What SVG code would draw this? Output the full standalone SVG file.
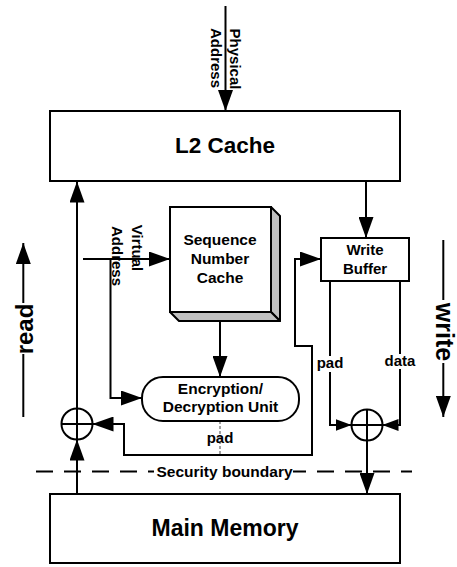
<svg xmlns="http://www.w3.org/2000/svg" width="457" height="567" viewBox="0 0 457 567">
<style>
  text { font-family: "Liberation Sans", Arial, sans-serif; font-weight: bold; fill: #000; }
  .box { fill: #fff; stroke: #000; stroke-width: 2; }
  .shade { fill: #c0c0c0; stroke: #000; stroke-width: 2; stroke-linejoin: round; }
  .wire { fill: none; stroke: #000; stroke-width: 2; }
  .arrow { marker-end: url(#ah); }
  .arrow-s { marker-end: url(#ahs); }
  .dash { fill: none; stroke: #000; stroke-width: 2; stroke-dasharray: 17 11; }
  .thin { fill: none; stroke: #444; stroke-width: 1; stroke-dasharray: 3 2; }
  .lbl { font-size: 15px; text-anchor: middle; }
  .c { text-anchor: middle; }
</style>
<defs>
  <marker id="ah" markerUnits="userSpaceOnUse" markerWidth="21" markerHeight="15" refX="21" refY="7.5" orient="auto">
    <path d="M0,0 L21,7.5 L0,15 Z" fill="#000"/>
  </marker>
  <marker id="ahs" markerUnits="userSpaceOnUse" markerWidth="16" markerHeight="12" refX="16" refY="6" orient="auto">
    <path d="M0,0 L16,6 L0,12 Z" fill="#000"/>
  </marker>
</defs>
<rect width="457" height="567" fill="#fff"/>

<g id="connectors">
  <path class="wire arrow" d="M225.5,6 V111"/>
  <path class="wire arrow" d="M77,408.5 V181.5"/>
  <path class="wire arrow" d="M77,494 V439.5"/>
  <path class="wire arrow" d="M366,181 V238"/>
  <path class="wire arrow" d="M83,259 H170"/>
  <path class="wire arrow" d="M110.5,259 V398 H142"/>
  <path class="wire arrow" d="M220,321 V377"/>
  <path class="thin" d="M220,421 V455"/>
  <path class="wire arrow" d="M220,455 H312 V346 H295 V259 H321"/>
  <path class="wire arrow" d="M220,455 H124 V424 H92.5"/>
  <path class="wire arrow-s" d="M330,281 V425 H351.5"/>
  <path class="wire arrow-s" d="M400,281 V425 H382.5"/>
  <path class="wire arrow" d="M367,440.5 V494"/>
  <path class="wire arrow" d="M23.3,303 V243"/>
  <path class="wire" d="M23.3,354 V417"/>
  <path class="wire" d="M443.3,240 V300"/>
  <path class="wire arrow" d="M443.3,363 V417"/>
</g>

<g id="security-boundary">
  <path class="dash" d="M36,471.5 H154"/>
  <path class="dash" style="stroke-dashoffset:4" d="M293,471.5 H412"/>
  <text x="224.5" y="476.8" font-size="15.5" class="c">Security boundary</text>
</g>

<g id="l2-cache">
  <rect class="box" x="50" y="111" width="350" height="70"/>
  <text x="225" y="152.5" font-size="22.5" class="c">L2 Cache</text>
</g>

<g id="main-memory">
  <rect class="box" x="50" y="494" width="350" height="69"/>
  <text x="225" y="536" font-size="23" class="c">Main Memory</text>
</g>

<g id="sequence-number-cache">
  <polygon class="shade" points="271,207 280,216 280,321 271,312"/>
  <polygon class="shade" points="170,312 271,312 280,321 179,321"/>
  <rect class="box" x="170" y="207" width="101" height="105"/>
  <text x="220" y="245" font-size="15.5" class="c">Sequence</text>
  <text x="220" y="264" font-size="15.5" class="c">Number</text>
  <text x="220" y="282.5" font-size="15.5" class="c">Cache</text>
</g>

<g id="write-buffer">
  <rect class="box" x="321" y="238" width="88" height="43"/>
  <text x="365" y="255" font-size="15" class="c">Write</text>
  <text x="365" y="273.5" font-size="15" class="c">Buffer</text>
</g>

<g id="encryption-unit">
  <rect class="box" x="142" y="377" width="157" height="44" rx="21" ry="21"/>
  <text x="220.5" y="394" font-size="15.5" class="c">Encryption/</text>
  <text x="220.5" y="411.5" font-size="15.5" class="c">Decryption Unit</text>
</g>

<g id="xor-read">
  <circle cx="77" cy="424" r="15.5" fill="#fff" stroke="#000" stroke-width="2"/>
  <path class="wire" d="M61.5,424 H92.5 M77,408.5 V439.5"/>
</g>

<g id="xor-write">
  <circle cx="367" cy="425" r="15.5" fill="#fff" stroke="#000" stroke-width="2"/>
  <path class="wire" d="M351.5,425 H382.5 M367,409.5 V440.5"/>
</g>

<g id="labels">
  <text class="lbl" transform="translate(230,59) rotate(90)">Physical</text>
  <text class="lbl" transform="translate(211,58) rotate(90)">Address</text>
  <text class="lbl" transform="translate(132,248) rotate(90)">Virtual</text>
  <text class="lbl" transform="translate(111.5,256) rotate(90)">Address</text>
  <rect x="316" y="356" width="28" height="16" fill="#fff"/>
  <text class="lbl" x="330" y="368">pad</text>
  <rect x="385" y="354" width="30" height="15" fill="#fff"/>
  <text class="lbl" x="400" y="366">data</text>
  <text class="lbl" x="220" y="442.5">pad</text>
  <text font-size="24" class="c" transform="translate(32.5,329) rotate(-90)">read</text>
  <text font-size="25" class="c" transform="translate(435.5,332) rotate(90)">write</text>
</g>
</svg>
